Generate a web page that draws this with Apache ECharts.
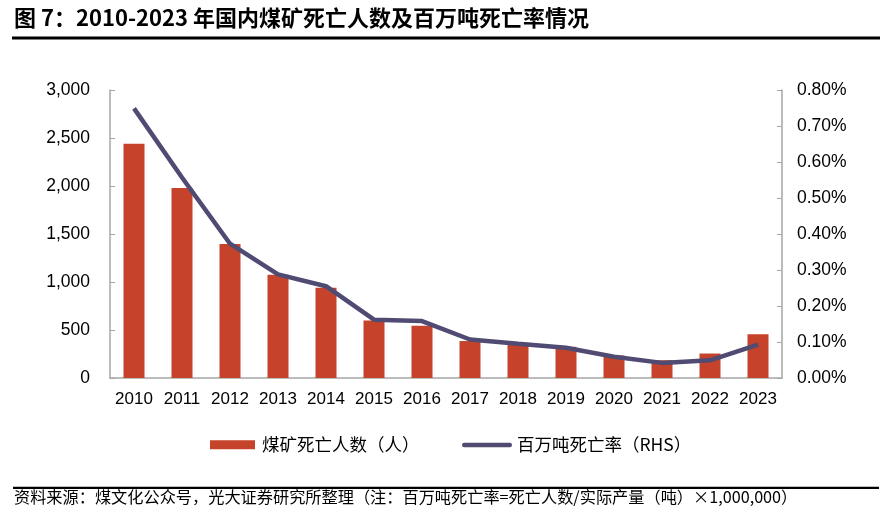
<!DOCTYPE html>
<html><head><meta charset="utf-8">
<script src="https://cdn.jsdelivr.net/npm/echarts@6/dist/echarts.min.js"></script>
<style>html,body{margin:0;padding:0;background:#fff}#c{width:894px;height:516px}</style>
</head><body><div id="c"></div>
<script>
const categories = ['2010','2011','2012','2013','2014','2015','2016','2017','2018','2019','2020','2021','2022','2023'];
const deaths = [2440, 1980, 1395, 1075, 940, 600, 545, 385, 350, 325, 235, 185, 255, 455];
const ratePct = [0.749, 0.557, 0.373, 0.288, 0.255, 0.162, 0.158, 0.107, 0.095, 0.084, 0.059, 0.042, 0.049, 0.093];
const leftTicks = {min: 0, max: 3000, interval: 500};
const rightTicks = {min: 0, max: 0.8, interval: 0.1};

const cjk = '"Noto Sans CJK SC", "Noto Sans", sans-serif';
const num = '"Liberation Sans", Arial, sans-serif';
const chart = echarts.init(document.getElementById('c'));
chart.setOption({
  animation: false,
  textStyle: {fontFamily: cjk},
  title: {
    text: '图 7：2010-2023 年国内煤矿死亡人数及百万吨死亡率情况',
    left: 9, top: 2,
    textStyle: {fontSize: 22, fontWeight: 'bold', color: '#000', fontFamily: cjk}
  },
  graphic: [
    {type: 'rect', shape: {x: 12, y: 36.5, width: 868, height: 3}, style: {fill: '#000'}},
    {type: 'rect', shape: {x: 13, y: 486.7, width: 866, height: 2.4}, style: {fill: '#000'}},
    {type: 'text', left: 14, top: 489, style: {
      text: '资料来源：煤文化公众号，光大证券研究所整理（注：百万吨死亡率=死亡人数/实际产量（吨）×1,000,000）',
      fontSize: 16.2, fill: '#000', fontFamily: cjk}}
  ],
  legend: [
    {
      left: 205, top: 431, itemWidth: 45, itemHeight: 9,
      textStyle: {fontSize: 17.5, color: '#000', fontFamily: cjk, padding: [0, 0, 0, 2]},
      data: [{name: '煤矿死亡人数（人）', icon: 'rect'}]
    },
    {
      left: 457, top: 431, itemWidth: 50, itemHeight: 9,
      textStyle: {fontSize: 17.5, color: '#000', fontFamily: cjk},
      data: [{name: '百万吨死亡率（RHS）', icon: 'path://M2,2.5 L48,2.5 A2.25,2.25 0 0 1 48,7 L2,7 A2.25,2.25 0 0 1 2,2.5 Z M0,0 M50,9'}]
    }
  ],
  grid: {left: 110, right: 112, top: 90, bottom: 138, containLabel: false},
  xAxis: {
    type: 'category', data: categories,
    axisLine: {lineStyle: {color: '#a6a6a6', width: 1.5}},
    axisTick: {inside: true, length: 5, lineStyle: {color: '#a6a6a6'}},
    axisLabel: {interval: 0, fontSize: 17, color: '#000', margin: 13, fontFamily: num}
  },
  yAxis: [
    {
      type: 'value', min: leftTicks.min, max: leftTicks.max, interval: leftTicks.interval,
      axisLine: {show: true, lineStyle: {color: '#a6a6a6', width: 1.5}},
      axisTick: {show: true, inside: true, length: 5, lineStyle: {color: '#a6a6a6'}},
      splitLine: {show: false},
      axisLabel: {fontSize: 17.5, color: '#000', margin: 20, fontFamily: num,
        formatter: v => v.toLocaleString('en-US')}
    },
    {
      type: 'value', min: rightTicks.min, max: rightTicks.max, interval: rightTicks.interval,
      axisLine: {show: true, lineStyle: {color: '#a6a6a6', width: 1.5}},
      axisTick: {show: true, inside: true, length: 5, lineStyle: {color: '#a6a6a6'}},
      splitLine: {show: false},
      axisLabel: {fontSize: 17.5, color: '#000', margin: 15, fontFamily: num,
        formatter: v => v.toFixed(2) + '%'}
    }
  ],
  series: [
    {name: '煤矿死亡人数（人）', type: 'bar', data: deaths, barWidth: 21,
     itemStyle: {color: '#C5432A'}},
    {name: '百万吨死亡率（RHS）', type: 'line', yAxisIndex: 1, data: ratePct,
     symbol: 'none', lineStyle: {color: '#4F4B72', width: 4.5}, itemStyle: {color: '#4F4B72'}}
  ]
});
</script></body></html>
